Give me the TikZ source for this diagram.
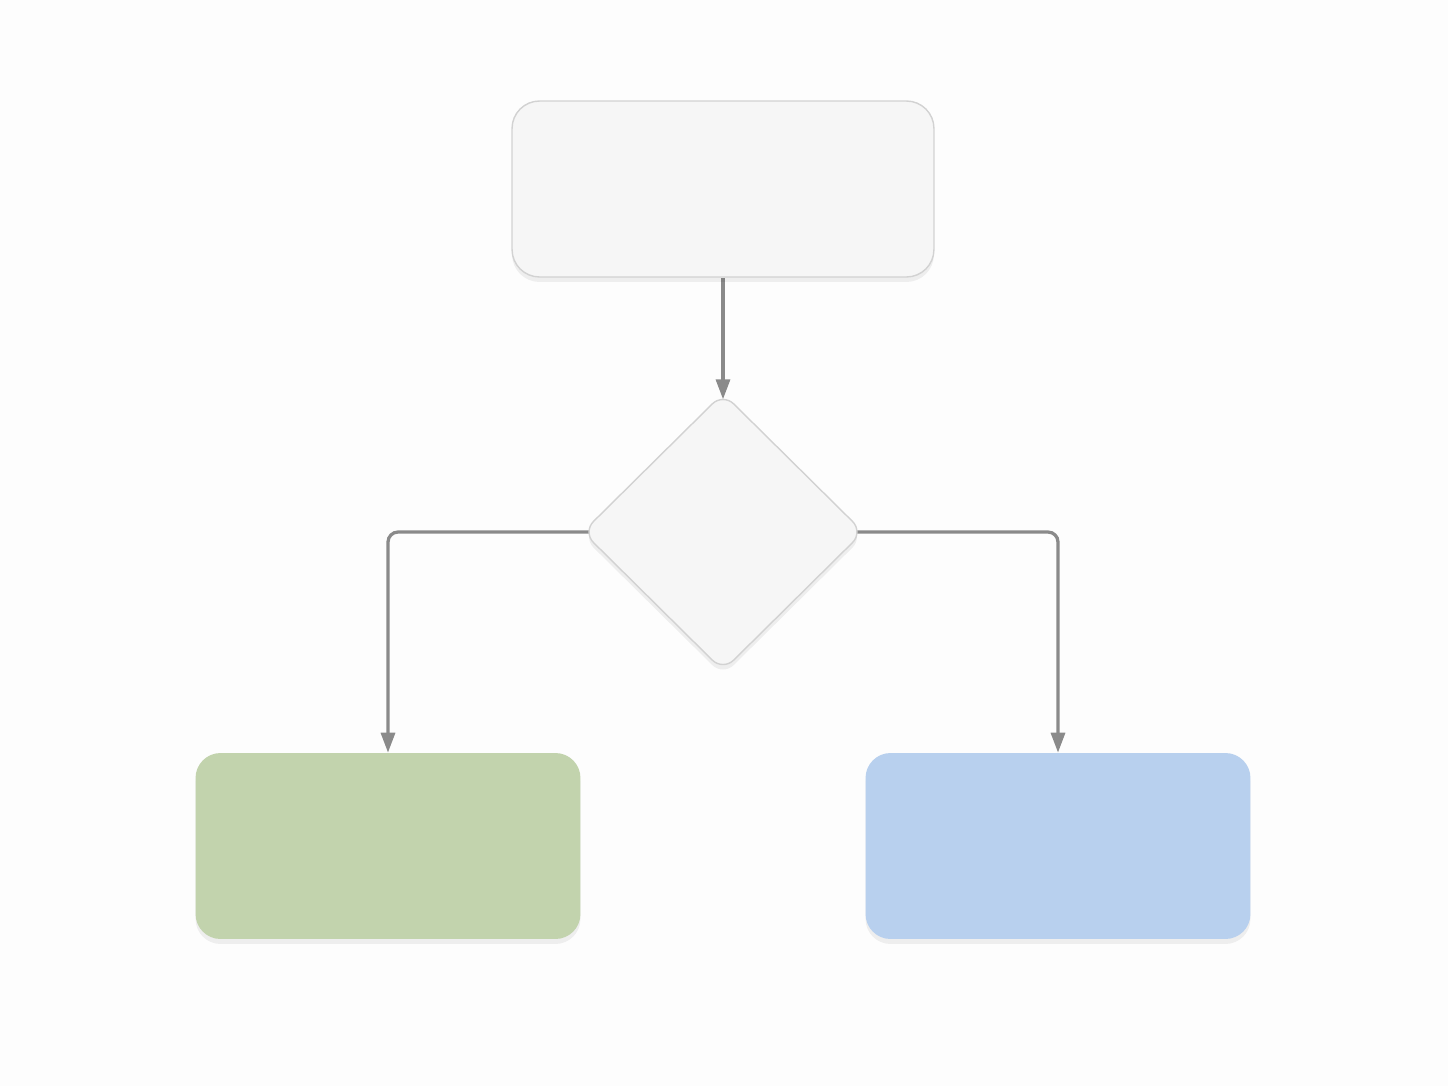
\documentclass[tikz,border=0pt]{standalone}
\usepackage{tikz}
\usetikzlibrary{shapes.geometric,arrows.meta,shadows,backgrounds}
\definecolor{paper}{HTML}{FDFDFD}
\definecolor{boxgray}{HTML}{F6F6F6}
\definecolor{edgegray}{HTML}{D2D2D2}
\definecolor{linegray}{HTML}{8A8A8A}
\definecolor{leafgreen}{HTML}{C2D3AD}
\definecolor{leafblue}{HTML}{B8D0EE}

\begin{document}
\begin{tikzpicture}[x=0.02cm,y=-0.02cm,
    softshadow/.style={drop shadow={shadow xshift=0pt,shadow yshift=-0.1cm,opacity=0.06,fill=black}},
    startbox/.style={rectangle,rounded corners=0.55cm,minimum width=8.44cm,minimum height=3.52cm,
        inner sep=0pt,fill=boxgray,draw=edgegray,line width=0.8pt,softshadow},
    choice/.style={diamond,rounded corners=0.3cm,minimum width=5.62cm,minimum height=5.56cm,
        inner sep=0pt,fill=boxgray,draw=edgegray,line width=0.8pt,softshadow},
    leaf/.style={rectangle,rounded corners=0.5cm,minimum width=7.7cm,minimum height=3.72cm,
        inner sep=0pt,softshadow},
    flow/.style={linegray,line width=0.065cm,rounded corners=0.2cm,-{Triangle[length=0.4cm,width=0.28cm]}}
]
    \useasboundingbox (0,0) rectangle (1448,1086);

    \node [startbox] (start) at (723,189) {};
    \node [choice] (check) at (723,532) {};
    \node [leaf,fill=leafgreen] (yes) at (388,846) {};
    \node [leaf,fill=leafblue] (no) at (1058,846) {};

    % paper first, then connectors under the diamond so they meet its rounded tips
    \begin{pgfonlayer}{background}
        \fill [paper] (0,0) rectangle (1448,1086);
        \draw [flow,shorten >=-0.14cm] (start.south) -- (check.north);
        \draw [flow,shorten <=-0.4cm] (check.west) -| (yes.north);
        \draw [flow,shorten <=-0.4cm] (check.east) -| (no.north);
    \end{pgfonlayer}
\end{tikzpicture}
\end{document}
